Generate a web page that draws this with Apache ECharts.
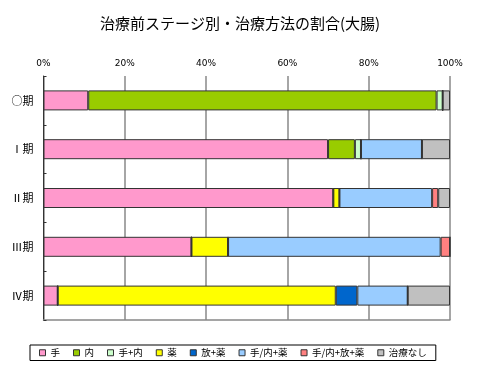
<!DOCTYPE html>
<html>
<head>
<meta charset="utf-8">
<script src="https://cdn.jsdelivr.net/npm/echarts@6/dist/echarts.min.js"></script>
<style>
  html, body { margin: 0; padding: 0; background: #fff; }
  #chart { width: 480px; height: 375px; }
</style>
</head>
<body>
<div id="chart"></div>
<script>
const stages = ["○期", "Ⅰ期", "Ⅱ期", "Ⅲ期", "Ⅳ期"];
const xTicks = [0, 20, 40, 60, 80, 100];

// percent of each treatment per stage
const shu = [11.0, 70.0, 71.3, 36.4, 3.5];          // 手
const nai = [85.7, 6.6, 0, 0, 0];                    // 内
const shuNai = [1.5, 1.5, 0, 0, 0];                  // 手+内
const yaku = [0, 0, 1.5, 9.0, 68.4];                 // 薬
const houYaku = [0, 0, 0, 0, 5.3];                   // 放+薬
const shuNaiYaku = [0, 15.0, 22.8, 52.3, 12.4];      // 手/内+薬
const shuNaiHouYaku = [0, 0, 1.5, 2.3, 0];           // 手/内+放+薬
const nashi = [1.8, 6.9, 2.9, 0, 10.4];              // 治療なし

const seriesDefs = [
  ["手", shu, "#FF99CC"],
  ["内", nai, "#99CC00"],
  ["手+内", shuNai, "#CCFFCC"],
  ["薬", yaku, "#FFFF00"],
  ["放+薬", houYaku, "#0066CC"],
  ["手/内+薬", shuNaiYaku, "#99CCFF"],
  ["手/内+放+薬", shuNaiHouYaku, "#FF8080"],
  ["治療なし", nashi, "#C0C0C0"],
];

const font = '"Noto Sans CJK JP", sans-serif';
const chart = echarts.init(document.getElementById("chart"));

chart.setOption({
  animation: false,
  textStyle: { fontFamily: font },
  title: {
    text: "治療前ステージ別・治療方法の割合(大腸)",
    left: "center",
    top: 11,
    textStyle: { fontFamily: font, fontSize: 15, fontWeight: "normal", color: "#000" },
  },
  grid: { left: 43.5, right: 30, top: 76, bottom: 55 },
  legend: {
    left: 30,
    top: 345,
    padding: [3, 9],
    itemGap: 13,
    itemWidth: 6,
    itemHeight: 6,
    icon: "rect",
    borderColor: "#000",
    borderWidth: 1,
    textStyle: { fontFamily: font, fontSize: 9.5, color: "#000" },
    itemStyle: { borderColor: "#333", borderWidth: 1 },
    data: seriesDefs.map((d) => d[0]),
  },
  xAxis: [
    {
      type: "value",
      position: "top",
      min: xTicks[0],
      max: xTicks[xTicks.length - 1],
      interval: 20,
      axisLine: { show: false },
      axisTick: { show: false },
      axisLabel: {
        formatter: "{value}%",
        fontSize: 9,
        color: "#000",
        margin: 8,
        fontFamily: "DejaVu Sans",
      },
      splitLine: { show: true, lineStyle: { color: "#888", width: 1.5 } },
    },
    {
      type: "value",
      position: "bottom",
      min: 0,
      max: 100,
      axisLine: { show: true, lineStyle: { color: "#888", width: 1.5 } },
      axisTick: { show: false },
      axisLabel: { show: false },
      splitLine: { show: false },
    },
  ],
  yAxis: {
    type: "category",
    inverse: true,
    data: stages,
    axisLine: { show: true, lineStyle: { color: "#333", width: 1 } },
    axisTick: { show: true, inside: true, length: 3, lineStyle: { color: "#333" } },
    axisLabel: { fontSize: 11, color: "#000", margin: 10 },
  },
  series: seriesDefs.map(([name, data, color]) => ({
    name: name,
    type: "bar",
    stack: "total",
    xAxisIndex: 0,
    barWidth: 20,
    data: data,
    itemStyle: { color: color, borderColor: "#333", borderWidth: 1 },
  })),
});
</script>
</body>
</html>
